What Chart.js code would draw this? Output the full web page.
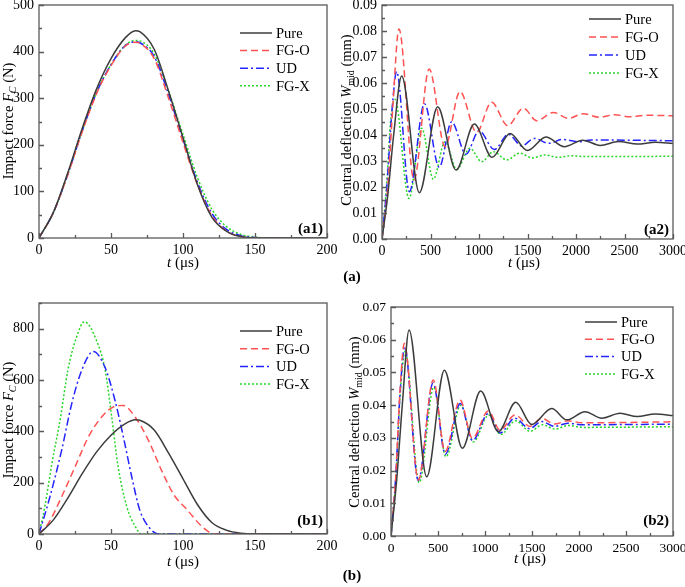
<!DOCTYPE html>
<html>
<head>
<meta charset="utf-8">
<script src="https://cdn.jsdelivr.net/npm/chart.js@4"></script>
<style>
body { margin: 0; background: #fff; width: 685px; height: 587px; position: relative; overflow: hidden;
       font-family: 'Liberation Serif', 'Times New Roman', serif; }
canvas { position: absolute; }
.lbl { position: absolute; font-size: 15px; color: #000; white-space: nowrap; line-height: 1; }
.ytl { font-size: 14.5px; }
.rot { transform: translate(-50%, -50%) rotate(-90deg); }
.ctr { transform: translate(-50%, -50%); }
.lbl sub { font-size: 10px; vertical-align: -3px; line-height: 0; }
.bold { font-weight: bold; }
</style>
</head>
<body>
<canvas id="a1" width="340" height="265" style="left:0;top:0"></canvas>
<canvas id="a2" width="345" height="265" style="left:340px;top:0"></canvas>
<canvas id="b1" width="340" height="270" style="left:0;top:290px"></canvas>
<canvas id="b2" width="345" height="272" style="left:340px;top:290px"></canvas>

<div class="lbl ytl rot" style="left:8px;top:121px">Impact force <i>F</i><sub><i>C</i></sub> (N)</div>
<div class="lbl ytl rot" style="left:346px;top:120px">Central deflection <i>W</i><sub>mid</sub> (mm)</div>
<div class="lbl ytl rot" style="left:8px;top:420px">Impact force <i>F</i><sub><i>C</i></sub> (N)</div>
<div class="lbl ytl rot" style="left:354px;top:422px">Central deflection <i>W</i><sub>mid</sub> (mm)</div>
<div class="lbl ctr" style="left:183px;top:262px"><i>t</i> (μs)</div>
<div class="lbl ctr" style="left:524px;top:262px"><i>t</i> (μs)</div>
<div class="lbl ctr" style="left:183px;top:561px"><i>t</i> (μs)</div>
<div class="lbl ctr" style="left:530px;top:558px"><i>t</i> (μs)</div>
<div class="lbl ctr bold" style="left:352px;top:276px">(a)</div>
<div class="lbl ctr bold" style="left:352px;top:575px">(b)</div>

<script>
const SERIF = "'Liberation Serif', 'Times New Roman', serif";
const SERIES = ['Pure', 'FG-O', 'UD', 'FG-X'];
const COLORS = ['#3c3c3c', '#ff5252', '#2424ff', '#2ad62a'];
const DASHES = [[], [7, 4], [8, 3, 2, 3], [2, 2]];

// (a1) impact force, all series share the time samples
const forceT  = [0, 10, 20, 30, 40, 50, 60, 67, 70, 80, 90, 100, 110, 120, 130, 140, 150, 160, 200];
const a1Pure  = [0, 55, 140, 235, 320, 385, 430, 445, 443, 405, 315, 215, 115, 45, 15, 3, 0, 0, 0];
const a1FGO   = [0, 55, 136, 228, 310, 370, 412, 420, 418, 385, 300, 205, 115, 48, 15, 3, 0, 0, 0];
const a1UD    = [0, 55, 137, 230, 312, 372, 413, 421, 419, 390, 308, 212, 120, 53, 19, 5, 1, 0, 0];
const a1FGX   = [0, 55, 137, 230, 312, 372, 414, 424, 423, 395, 315, 222, 130, 62, 25, 8, 2, 0, 0];

// (a2) central deflection
const a2PureT = [0, 60, 120, 203, 385, 574, 763, 952, 1135, 1320, 1500, 1690, 1880, 2070, 2250, 2440, 2630, 2820, 3000];
const a2PureW = [0, 0.017, 0.040, 0.0627, 0.0178, 0.0509, 0.0265, 0.0442, 0.0314, 0.0406, 0.0340, 0.0392, 0.0355, 0.0380, 0.0360, 0.0375, 0.0365, 0.0372, 0.0367];
const a2FGOT  = [0, 60, 110, 175, 330, 486, 650, 804, 975, 1130, 1296, 1457, 1595, 1767, 1921, 2076, 2240, 2400, 2560, 2720, 3000];
const a2FGOW  = [0, 0.020, 0.050, 0.0808, 0.0227, 0.0654, 0.0355, 0.0567, 0.0410, 0.0526, 0.0436, 0.0503, 0.0455, 0.0487, 0.0464, 0.0482, 0.0468, 0.0478, 0.0470, 0.0476, 0.0474];
const a2UDT   = [0, 50, 100, 151, 282, 438, 590, 718, 865, 1000, 1158, 1303, 1440, 1570, 1720, 1865, 2020, 2160, 3000];
const a2UDW   = [0, 0.020, 0.048, 0.0644, 0.0182, 0.0520, 0.0276, 0.0451, 0.0326, 0.0416, 0.0344, 0.0403, 0.0358, 0.0387, 0.0368, 0.0383, 0.0374, 0.0381, 0.0378];
const a2FGXT  = [0, 50, 90, 134, 278, 409, 529, 650, 770, 907, 1028, 1148, 1285, 1420, 1550, 1680, 1810, 1950, 2100, 3000];
const a2FGXW  = [0, 0.022, 0.046, 0.0537, 0.0156, 0.0426, 0.0230, 0.0374, 0.0268, 0.0349, 0.0297, 0.0336, 0.0304, 0.0330, 0.0312, 0.0323, 0.0314, 0.0320, 0.0317, 0.0318];

// (b1) impact force
const b1FGOT  = [0, 6.5, 15.7, 25, 34.3, 43.5, 51.6, 58.6, 66.7, 76, 85, 94, 102, 114, 122, 200];
const b1FGOF  = [0, 41, 145, 261, 378, 456, 495, 501, 456, 365, 249, 150, 100, 25, 0, 0];
const b1UDT   = [0, 7.6, 15.7, 22.7, 29.6, 37.7, 45.8, 52.8, 58.6, 64.4, 70, 77, 83, 200];
const b1UDF   = [0, 145, 326, 507, 637, 711, 650, 520, 378, 223, 93, 22, 0, 0];
const b1FGXT  = [0, 4, 9, 15, 20, 26, 31.5, 40, 46, 50.5, 55, 61, 67, 71, 200];
const b1FGXF  = [0, 106, 275, 456, 637, 766, 827, 753, 637, 456, 261, 106, 28, 0, 0];

// (b2) central deflection
const b2PureT = [0, 60, 120, 192, 380, 568, 759, 954, 1142, 1327, 1497, 1710, 1870, 2064, 2242, 2437, 2620, 2809, 3000];
const b2PureW = [0, 0.017, 0.040, 0.0630, 0.0181, 0.0507, 0.0268, 0.0443, 0.0319, 0.0409, 0.0341, 0.0390, 0.0355, 0.0380, 0.0360, 0.0375, 0.0365, 0.0373, 0.0368];
const b2FGOT  = [0, 50, 95, 142, 291, 450, 575, 734, 866, 1036, 1160, 1320, 1480, 1600, 1740, 1880, 2040, 3000];
const b2FGOW  = [0, 0.018, 0.044, 0.0589, 0.0171, 0.0477, 0.0258, 0.0416, 0.0299, 0.0382, 0.0324, 0.0370, 0.0335, 0.0360, 0.0342, 0.0352, 0.0346, 0.0349];
const b2UDT   = [0, 50, 95, 145, 290, 448, 578, 737, 868, 1036, 1160, 1318, 1475, 1600, 1740, 1880, 2040, 3000];
const b2UDW   = [0, 0.018, 0.043, 0.0578, 0.0170, 0.0468, 0.0250, 0.0405, 0.0292, 0.0375, 0.0315, 0.0360, 0.0328, 0.0350, 0.0335, 0.0345, 0.0340, 0.0342];
const b2FGXT  = [0, 50, 95, 150, 300, 455, 585, 742, 875, 1040, 1165, 1325, 1480, 1610, 1745, 1885, 2040, 3000];
const b2FGXW  = [0, 0.017, 0.042, 0.0565, 0.0163, 0.0455, 0.0242, 0.0400, 0.0288, 0.0370, 0.0310, 0.0352, 0.0320, 0.0340, 0.0327, 0.0338, 0.0332, 0.0334];

function pts(t, v) {
    return t.map((x, i) => ({ x: x, y: v[i] }));
}

function makeSets(list) {
    return list.map((d, i) => ({
        label: SERIES[i],
        data: d,
        borderColor: COLORS[i],
        borderDash: DASHES[i],
        borderWidth: 1.5,
        pointRadius: 0,
        fill: false,
        cubicInterpolationMode: 'monotone'
    }));
}

// frame + inward ticks
const framePlugin = {
    id: 'frame',
    afterDraw(chart) {
        const ctx = chart.ctx;
        const a = chart.chartArea;
        ctx.save();
        ctx.strokeStyle = '#5a5a5a';
        ctx.lineWidth = 1.3;
        ctx.setLineDash([]);
        ctx.strokeRect(a.left, a.top, a.right - a.left, a.bottom - a.top);
        const xs = chart.scales.x, ys = chart.scales.y;
        ctx.beginPath();
        xs.ticks.forEach(t => {
            const px = Math.round(xs.getPixelForValue(t.value)) + 0.5;
            const len = t.label !== '' ? 5 : 3;
            ctx.moveTo(px, a.bottom);
            ctx.lineTo(px, a.bottom - len);
        });
        ys.ticks.forEach(t => {
            const py = Math.round(ys.getPixelForValue(t.value)) + 0.5;
            const len = t.label !== '' ? 5 : 3;
            ctx.moveTo(a.left, py);
            ctx.lineTo(a.left + len, py);
        });
        ctx.stroke();
        ctx.restore();
    }
};

// legend inside plot + panel tag
const legendPlugin = {
    id: 'legendIn',
    afterDraw(chart, args, opts) {
        const ctx = chart.ctx;
        const a = chart.chartArea;
        ctx.save();
        ctx.font = '14.5px ' + SERIF;
        ctx.textBaseline = 'middle';
        chart.data.datasets.forEach((ds, i) => {
            const y = a.top + opts.dy + i * opts.gap;
            const x0 = a.right - opts.dx;
            ctx.strokeStyle = ds.borderColor;
            ctx.lineWidth = 1.5;
            ctx.setLineDash(ds.borderDash);
            ctx.beginPath();
            ctx.moveTo(x0, y);
            ctx.lineTo(x0 + 32, y);
            ctx.stroke();
            ctx.fillStyle = '#000';
            ctx.fillText(ds.label, x0 + 36, y + 1);
        });
        ctx.setLineDash([]);
        ctx.font = 'bold 15px ' + SERIF;
        ctx.textAlign = 'right';
        ctx.textBaseline = 'alphabetic';
        ctx.fillText(opts.tag, a.right - 4, a.bottom - opts.tagDy);
        ctx.restore();
    }
};

function makeChart(id, sets, c) {
    const tickFont = { family: SERIF, size: c.fontSize || 14 };
    return new Chart(document.getElementById(id), {
        type: 'line',
        data: { datasets: sets },
        plugins: [framePlugin, legendPlugin],
        options: {
            responsive: false,
            animation: false,
            devicePixelRatio: 1,
            layout: { padding: { top: c.padTop, right: c.padRight, left: 0, bottom: 0 } },
            plugins: {
                legend: { display: false },
                tooltip: { enabled: false },
                legendIn: c.legend
            },
            scales: {
                x: {
                    type: 'linear', min: 0, max: c.xMax,
                    grid: { display: false, drawTicks: false },
                    border: { display: false },
                    ticks: {
                        stepSize: c.xStep, autoSkip: false, maxRotation: 0,
                        color: '#000', font: tickFont, padding: 4,
                        callback: v => (Math.round(v / c.xStep) % 2 === 0 ? String(v) : '')
                    },
                    afterFit: s => { s.height = c.xH; s.paddingLeft = 0; s.paddingRight = 0; }
                },
                y: {
                    type: 'linear', min: 0, max: c.yMax,
                    grid: { display: false, drawTicks: false },
                    border: { display: false },
                    ticks: {
                        stepSize: c.yStep, autoSkip: false,
                        color: '#000', font: tickFont, padding: 5,
                        callback: v => (Math.round(v / c.yStep) % 2 === 0 ? c.yFmt(v) : '')
                    },
                    afterFit: s => { s.width = c.yW; s.paddingTop = 0; s.paddingBottom = 0; }
                }
            }
        }
    });
}

const intFmt = v => String(Math.round(v));
const decFmt = v => v.toFixed(2);

makeChart('a1', makeSets([pts(forceT, a1Pure), pts(forceT, a1FGO), pts(forceT, a1UD), pts(forceT, a1FGX)]), {
    padTop: 5, padRight: 13, xH: 27, yW: 39, xMax: 200, xStep: 25, yMax: 500, yStep: 50, yFmt: intFmt,
    legend: { dx: 87, dy: 28, gap: 17.6, tag: '(a1)', tagDy: 5 }
});

makeChart('a2', makeSets([pts(a2PureT, a2PureW), pts(a2FGOT, a2FGOW), pts(a2UDT, a2UDW), pts(a2FGXT, a2FGXW)]), {
    padTop: 5, padRight: 12, xH: 26, yW: 42, xMax: 3000, xStep: 250, yMax: 0.09, yStep: 0.005, yFmt: decFmt,
    legend: { dx: 84, dy: 14, gap: 18, tag: '(a2)', tagDy: 5 }
});

makeChart('b1', makeSets([pts(forceT, a1Pure), pts(b1FGOT, b1FGOF), pts(b1UDT, b1UDF), pts(b1FGXT, b1FGXF)]), {
    padTop: 13, padRight: 13, xH: 26, yW: 39, xMax: 200, xStep: 25, yMax: 900, yStep: 100, yFmt: intFmt,
    legend: { dx: 87, dy: 28, gap: 17.7, tag: '(b1)', tagDy: 9 }
});

makeChart('b2', makeSets([pts(b2PureT, b2PureW), pts(b2FGOT, b2FGOW), pts(b2UDT, b2UDW), pts(b2FGXT, b2FGXW)]), {
    padTop: 17, padRight: 12, xH: 26, yW: 51, xMax: 3000, xStep: 250, yMax: 0.07, yStep: 0.005, yFmt: decFmt,
    fontSize: 13.5,
    legend: { dx: 88, dy: 15, gap: 17.3, tag: '(b2)', tagDy: 11 }
});
</script>
</body>
</html>
